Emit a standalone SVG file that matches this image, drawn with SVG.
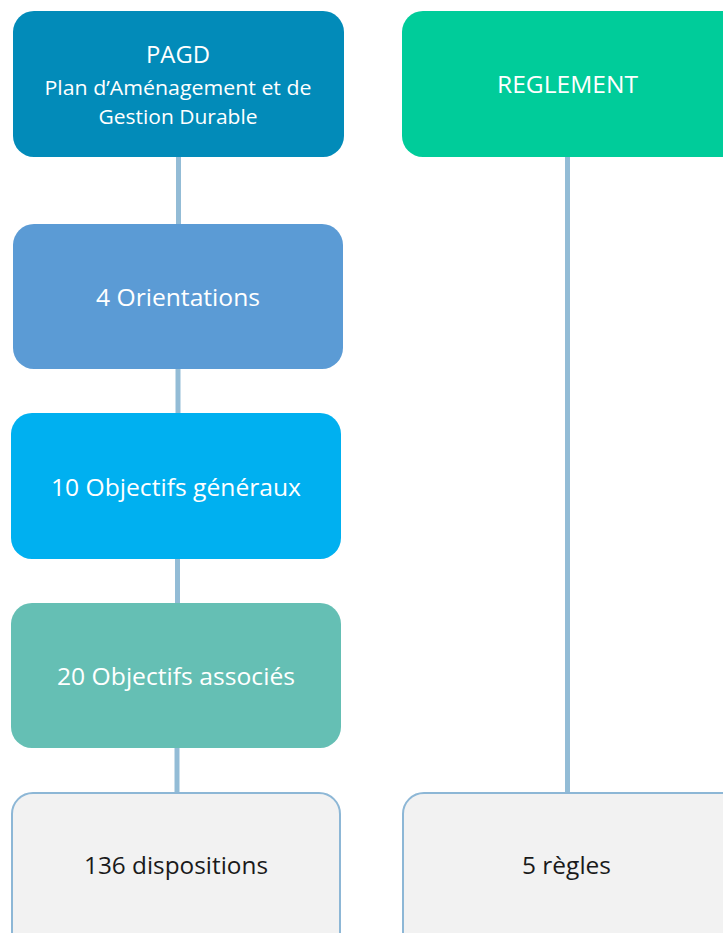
<svg xmlns="http://www.w3.org/2000/svg" width="723" height="933" viewBox="0 0 723 933">
<style>
text{font-family:"Open Sans","Lato","Liberation Sans",sans-serif;font-size:23px;text-anchor:middle}
.w{fill:#ffffff}
.k{fill:#1a1a1a}
.c{stroke:#93bcd6;stroke-width:5;fill:none}
.leaf{fill:#f2f2f2;stroke:#8db7d6;stroke-width:2}
</style>
<rect width="723" height="933" fill="#ffffff"/>
<g id="connectors">
<line class="c" x1="178.5" y1="155" x2="178.5" y2="226"/>
<line class="c" x1="178" y1="367" x2="178" y2="415"/>
<line class="c" x1="177.5" y1="556" x2="177.5" y2="605"/>
<line class="c" x1="177" y1="746" x2="177" y2="794"/>
<line class="c" x1="567.5" y1="155" x2="567.5" y2="794"/>
</g>
<g id="pagd">
<rect x="13" y="11" width="331" height="146" rx="21" fill="#028bb9"/>
<text class="w" x="178" y="63" textLength="64" lengthAdjust="spacingAndGlyphs">PAGD</text>
<text class="w" x="178" y="95" style="font-size:20px" textLength="267" lengthAdjust="spacingAndGlyphs">Plan d’Aménagement et de</text>
<text class="w" x="178" y="124" style="font-size:20px" textLength="159" lengthAdjust="spacingAndGlyphs">Gestion Durable</text>
</g>
<g id="reglement">
<rect x="402" y="11" width="345" height="146" rx="21" fill="#00cc9a"/>
<text class="w" x="567.5" y="93" textLength="141" lengthAdjust="spacingAndGlyphs">REGLEMENT</text>
</g>
<g id="orientations">
<rect x="13" y="224" width="330" height="145" rx="21" fill="#5b9bd5"/>
<text class="w" x="178" y="306" textLength="164" lengthAdjust="spacingAndGlyphs">4 Orientations</text>
</g>
<g id="objectifs-generaux">
<rect x="11" y="413" width="330" height="146" rx="21" fill="#00b0f0"/>
<text class="w" x="176" y="496" textLength="250" lengthAdjust="spacingAndGlyphs">10 Objectifs généraux</text>
</g>
<g id="objectifs-associes">
<rect x="11" y="603" width="330" height="145" rx="21" fill="#65bfb4"/>
<text class="w" x="176" y="685" textLength="238" lengthAdjust="spacingAndGlyphs">20 Objectifs associés</text>
</g>
<g id="dispositions">
<rect class="leaf" x="12" y="793" width="328" height="170" rx="21"/>
<text class="k" x="176" y="874" textLength="184" lengthAdjust="spacingAndGlyphs">136 dispositions</text>
</g>
<g id="regles">
<rect class="leaf" x="403" y="793" width="340" height="170" rx="21"/>
<text class="k" x="566.5" y="874" textLength="89" lengthAdjust="spacingAndGlyphs">5 règles</text>
</g>
</svg>
